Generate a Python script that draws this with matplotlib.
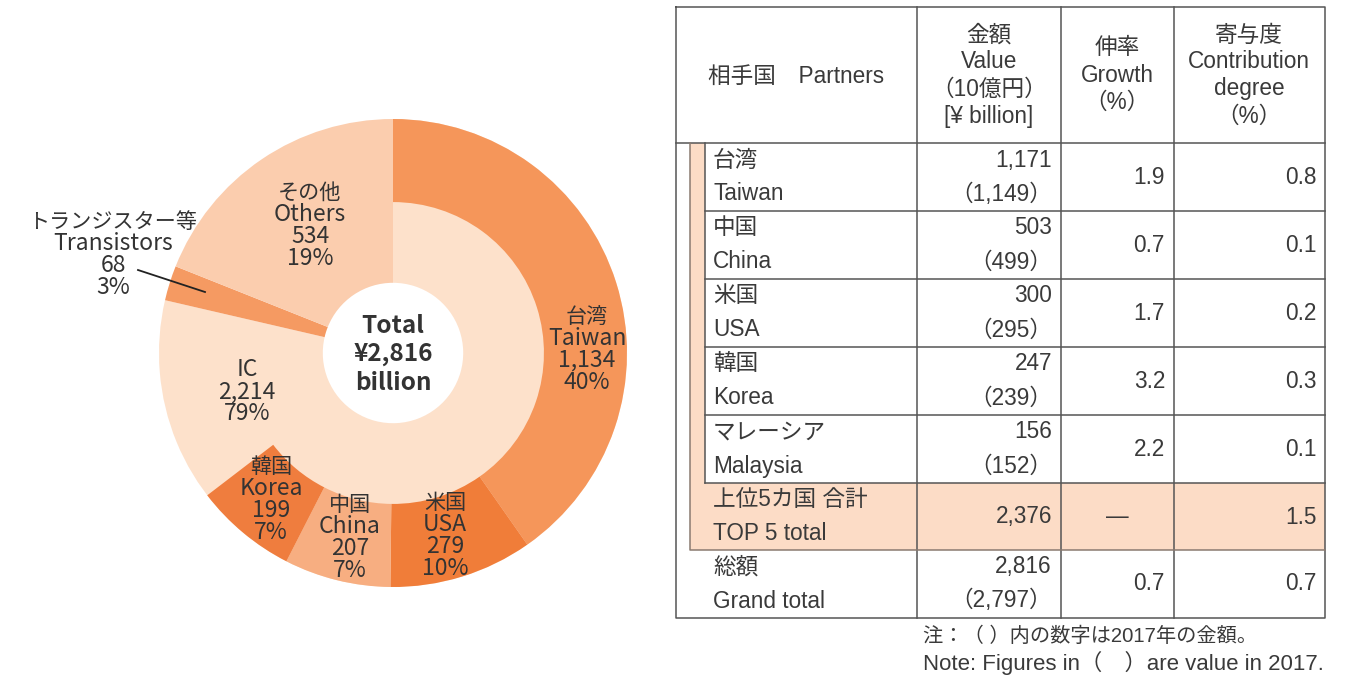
import matplotlib
matplotlib.use('Agg')
import matplotlib.pyplot as plt
from matplotlib.patches import Rectangle

plt.rcParams['font.family'] = ['Noto Sans CJK JP', 'DejaVu Sans']

# pie data: products (inner) and IC export partners (outer ring)
total = 2816
product_jp = ['IC', 'トランジスター等', 'その他']
product_en = ['', 'Transistors', 'Others']
product_values = [2214, 68, 534]
product_pct = ['79%', '3%', '19%']

ring_jp = ['台湾', '米国', '中国', '韓国']
ring_en = ['Taiwan', 'USA', 'China', 'Korea']
ring_values = [1134, 279, 207, 199]
ring_pct = ['40%', '10%', '7%', '7%']

# table data
partners_jp = ['台湾', '中国', '米国', '韓国', 'マレーシア']
partners_en = ['Taiwan', 'China', 'USA', 'Korea', 'Malaysia']
value_2018 = ['1,171', '503', '300', '247', '156']
value_2017 = ['1,149', '499', '295', '239', '152']
growth = ['1.9', '0.7', '1.7', '3.2', '2.2']
contrib = ['0.8', '0.1', '0.2', '0.3', '0.1']
top5 = ['2,376', '—', '1.5']
grand = ['2,816', '2,797', '0.7', '0.7']

product_colors = ['#FDE1CB', '#F59A62', '#FBCDAE']
ring_colors = ['#F5965A', '#F07D39', '#F7AE81', '#EF7D3E']
peach = '#FCDCC6'
txt = '#333333'
line_c = '#555555'

W, H = 1350, 677
fig = plt.figure(figsize=(W / 100, H / 100), dpi=100)

# ---- pie ----
cx, cy, R = 393, 353, 234
pax = fig.add_axes([(cx - R) / W, (H - cy - R) / H, 2 * R / W, 2 * R / H])
pax.pie(product_values, colors=product_colors, startangle=90, counterclock=False,
        radius=1, wedgeprops=dict(width=0.70, linewidth=0))
rest = total - sum(ring_values)
pax.pie(ring_values + [rest], colors=ring_colors + ['none'], startangle=90,
        counterclock=False, radius=1, wedgeprops=dict(width=0.355, linewidth=0))
pax.set_xlim(-1, 1)
pax.set_ylim(-1, 1)
pax.axis('off')

# overlay axes in pixel coordinates
ax = fig.add_axes([0, 0, 1, 1])
ax.set_xlim(0, W)
ax.set_ylim(H, 0)
ax.axis('off')
ax.patch.set_alpha(0)


def stack(x, y0, lines, dy=21.8, size=16.5, jp_first=True):
    for i, s in enumerate(lines):
        if s:
            fs = 15.2 if (i == 0 and jp_first) else size
            ax.text(x, y0 + i * dy, s, ha='center', va='center', fontsize=fs, color=txt)


for y, s in zip([326, 354, 383], ['Total', '¥2,816', 'billion']):
    ax.text(cx, y, s, ha='center', va='center', fontsize=17.5, fontweight='bold', color=txt)

ring_pos = [(587, 317), (445, 503), (350, 505), (271, 467)]
for (x, y), jp, en, v, p in zip(ring_pos, ring_jp, ring_en, ring_values, ring_pct):
    stack(x, y, [jp, en, f'{v:,}', p])

stack(247, 370, [product_jp[0], f'{product_values[0]:,}', product_pct[0]], jp_first=False)
stack(310, 193, [product_jp[2], product_en[2], f'{product_values[2]:,}', product_pct[2]])
stack(113, 222, [product_jp[1], product_en[1], f'{product_values[1]:,}', product_pct[1]])
ax.plot([138, 205], [270, 292], color='#222222', lw=1.3)

# ---- table ----
L, Rt, T, B = 676, 1325, 7, 618
cols = [917, 1061, 1174]
hdr = 143
rows = [143, 211, 279, 347, 415, 483, 550, 618]
bx0, bx1 = 690, 705

ax.add_patch(Rectangle((bx0, hdr), bx1 - bx0, rows[5] - hdr, facecolor=peach, edgecolor='none'))
ax.add_patch(Rectangle((bx0, rows[5]), Rt - bx0, rows[6] - rows[5], facecolor=peach, edgecolor='none'))

lw = 1.1
ax.plot([L, Rt, Rt, L, L], [T, T, B, B, T], color=line_c, lw=lw)
for c in cols:
    ax.plot([c, c], [T, B], color=line_c, lw=lw)
ax.plot([L, Rt], [hdr, hdr], color=line_c, lw=lw)
for r in rows[1:6]:
    ax.plot([bx1, Rt], [r, r], color=line_c, lw=lw)
ax.plot([bx1, bx1], [hdr, rows[5]], color=line_c, lw=lw)
ax.plot([bx0, bx0, Rt], [hdr, rows[6], rows[6]], color='#8a7a70', lw=lw)

tfam = ['Liberation Sans', 'Noto Sans CJK JP']
tfs = 16.3
tcol = '#3a3a3a'


def tt(x, y, s, ha='left', size=tfs):
    ax.text(x, y, s, ha=ha, va='center', fontsize=size, color=tcol, family=tfam)


tt(796, 76, '相手国　Partners', ha='center')
for y, s in zip([35, 62, 89, 116], ['金額', 'Value', '（10億円）', '[¥ billion]']):
    tt(989, y, s, ha='center')
for y, s in zip([48, 76, 102], ['伸率', 'Growth', '（%）']):
    tt(1117, y, s, ha='center')
for y, s in zip([35, 62, 89, 116], ['寄与度', 'Contribution', 'degree', '（%）']):
    tt(1249, y, s, ha='center')

for i in range(len(partners_jp)):
    top = rows[i]
    tt(713, top + 17, partners_jp[i])
    tt(713, top + 51, partners_en[i])
    tt(1052, top + 17, value_2018[i], ha='right')
    tt(1052, top + 51, f'（{value_2017[i]}）', ha='right')
    tt(1165, top + 34, growth[i], ha='right')
    tt(1317, top + 34, contrib[i], ha='right')

top = rows[5]
tt(713, top + 17, '上位5カ国 合計')
tt(713, top + 51, 'TOP 5 total')
tt(1052, top + 34, top5[0], ha='right')
tt(1117, top + 34, top5[1], ha='center')
tt(1317, top + 34, top5[2], ha='right')

top = rows[6]
tt(713, top + 17, '総額')
tt(713, top + 51, 'Grand total')
tt(1052, top + 17, grand[0], ha='right')
tt(1052, top + 51, f'（{grand[1]}）', ha='right')
tt(1165, top + 34, grand[2], ha='right')
tt(1317, top + 34, grand[3], ha='right')

tt(923, 636, '注：（ ）内の数字は2017年の金額。', size=14.6)
tt(923, 663, 'Note: Figures in（　）are value in 2017.', size=16)

fig.savefig('out.png', dpi=100)
